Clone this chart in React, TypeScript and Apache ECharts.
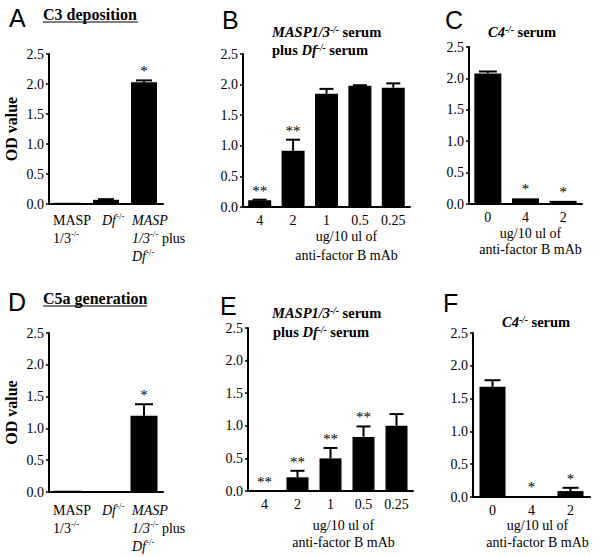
import React, { useEffect, useRef } from "react";
import * as echarts from "echarts";

// ---------- data ----------
const catsAD = ["MASP 1/3-/-", "Df-/-", "MASP 1/3-/- plus Df-/-"];
const catsBE = ["4", "2", "1", "0.5", "0.25"];
const catsCF = ["0", "4", "2"];

const valA = [0.02, 0.07, 2.03];
const errA = [0, 0.01, 0.03];
const sigA = ["", "", "*"];

const valB = [0.11, 0.92, 1.85, 1.98, 1.95];
const errB = [0.01, 0.18, 0.08, 0.01, 0.07];
const sigB = ["**", "**", "", "", ""];

const valC = [2.08, 0.09, 0.05];
const errC = [0.03, 0, 0];
const sigC = ["", "*", "*"];

const valD = [0.02, 0.01, 1.2];
const errD = [0, 0, 0.18];
const sigD = ["", "", "*"];

const valE = [0, 0.21, 0.5, 0.83, 1.0];
const errE = [0, 0.1, 0.16, 0.16, 0.18];
const sigE = ["**", "**", "**", "**", ""];

const valF = [1.68, 0.01, 0.09];
const errF = [0.1, 0, 0.05];
const sigF = ["", "*", "*"];

const yMin = 0;
const yMax = 2.5;
const yStep = 0.5;

// ---------- styles / layout ----------
const SERIF = "Liberation Serif";
const SANS = "Liberation Sans";

type Panel = {
  letter: string;
  cats: string[];
  val: number[];
  err: number[];
  sig: string[];
  grid: { left: number; top: number; width: number; height: number };
  barWidth: number;
  yName?: string;
};

const panels: Panel[] = [
  { letter: "A", cats: catsAD, val: valA, err: errA, sig: sigA, grid: { left: 49, top: 54, width: 114, height: 150 }, barWidth: 26, yName: "OD value" },
  { letter: "B", cats: catsBE, val: valB, err: errB, sig: sigB, grid: { left: 243, top: 54, width: 167, height: 153 }, barWidth: 23 },
  { letter: "C", cats: catsCF, val: valC, err: errC, sig: sigC, grid: { left: 469, top: 47, width: 113, height: 157 }, barWidth: 27 },
  { letter: "D", cats: catsAD, val: valD, err: errD, sig: sigD, grid: { left: 49, top: 333, width: 114, height: 159 }, barWidth: 27, yName: "OD value" },
  { letter: "E", cats: catsBE, val: valE, err: errE, sig: sigE, grid: { left: 248, top: 328, width: 165, height: 163 }, barWidth: 22 },
  { letter: "F", cats: catsCF, val: valF, err: errF, sig: sigF, grid: { left: 473, top: 333, width: 117, height: 164 }, barWidth: 26 },
];

const letterPos = [
  { x: 9, y: 18 },
  { x: 222, y: 20 },
  { x: 445, y: 20 },
  { x: 8, y: 302 },
  { x: 220, y: 306 },
  { x: 443, y: 303 },
];

const TS = 14.5;
const richTitle = {
  b: { fontFamily: SERIF, fontSize: TS, fontWeight: "bold", fill: "#000" },
  bi: { fontFamily: SERIF, fontSize: TS, fontWeight: "bold", fontStyle: "italic", fill: "#000" },
  sup: { fontFamily: SERIF, fontSize: 9.5, fontWeight: "bold", fontStyle: "italic", verticalAlign: "top", fill: "#000" },
};

const richLabel = {
  n: { fontFamily: SERIF, fontSize: 14, fill: "#000" },
  i: { fontFamily: SERIF, fontSize: 14, fontStyle: "italic", fill: "#000" },
  sup: { fontFamily: SERIF, fontSize: 9, verticalAlign: "top", fill: "#000" },
};

function txt(x: number, y: number, text: string, opts: any = {}) {
  return {
    type: "text",
    x,
    y,
    silent: true,
    style: {
      text,
      fill: "#000",
      fontFamily: SERIF,
      fontSize: 14,
      align: "left",
      verticalAlign: "middle",
      ...opts,
    },
  };
}

export default function App() {
  const ref = useRef<HTMLDivElement>(null);

  useEffect(() => {
    if (!ref.current) return;
    const chart = echarts.init(ref.current, undefined, { renderer: "svg" });

    const grid = panels.map((p) => ({ ...p.grid, containLabel: false }));
    const xAxis = panels.map((p, i) => ({
      type: "category",
      gridIndex: i,
      data: p.cats,
      axisLine: { lineStyle: { color: "#000", width: 2 } },
      axisTick: { alignWithLabel: true, length: 4, lineStyle: { color: "#000", width: 1.5 } },
      axisLabel: {
        show: p.cats !== catsAD,
        color: "#000",
        fontFamily: SERIF,
        fontSize: 14,
        margin: 6,
      },
      splitLine: { show: false },
    }));
    const yAxis = panels.map((p, i) => ({
      type: "value",
      gridIndex: i,
      min: yMin,
      max: yMax,
      interval: yStep,
      name: p.yName || "",
      nameLocation: "middle",
      nameRotate: 90,
      nameGap: 30,
      nameTextStyle: { fontFamily: SERIF, fontSize: 16, fontWeight: "bold", color: "#000" },
      axisLine: { show: true, lineStyle: { color: "#000", width: 2 } },
      axisTick: { show: true, length: 3, lineStyle: { color: "#000", width: 1.5 } },
      axisLabel: {
        color: "#000",
        fontFamily: SERIF,
        fontSize: 14,
        margin: 5,
        formatter: (v: number) => v.toFixed(1),
      },
      splitLine: { show: false },
    }));

    const series: any[] = [];
    panels.forEach((p, i) => {
      series.push({
        type: "bar",
        xAxisIndex: i,
        yAxisIndex: i,
        data: p.val,
        barWidth: p.barWidth,
        itemStyle: { color: "#000" },
        silent: true,
      });
      const capHalf = Math.round(p.barWidth * 0.32);
      series.push({
        type: "custom",
        xAxisIndex: i,
        yAxisIndex: i,
        clip: false,
        z: 5,
        silent: true,
        itemStyle: { color: "#000" },
        data: p.val.map((v, k) => [k, v, p.err[k]]),
        encode: { x: 0, y: 1 },
        renderItem: (_params: any, api: any) => {
          const k = api.value(0);
          const v = api.value(1);
          const e = api.value(2);
          const pb = api.coord([k, v]);
          const pt = api.coord([k, v + e]);
          const x = pb[0];
          const children: any[] = [];
          if (e > 0) {
            children.push({ type: "line", shape: { x1: x, y1: pb[1], x2: x, y2: pt[1] }, style: { stroke: "#000", lineWidth: 2 } });
            children.push({ type: "line", shape: { x1: x - capHalf, y1: pt[1], x2: x + capHalf, y2: pt[1] }, style: { stroke: "#000", lineWidth: 2 } });
          }
          return { type: "group", children };
        },
      });
    });

    chart.setOption({ animation: false, grid, xAxis, yAxis, series });

    // ----- texts -----
    const g: any[] = [];
    panels.forEach((p, i) => {
      g.push(txt(letterPos[i].x, letterPos[i].y, p.letter, { fontFamily: SANS, fontSize: 25 }));
      // significance marks above the error bars, placed through the axes
      p.sig.forEach((s, k) => {
        if (!s) return;
        const pt = chart.convertToPixel({ gridIndex: i }, [k, p.val[k] + p.err[k]]) as number[];
        g.push(txt(pt[0], pt[1] - 9, s, { align: "center", fontSize: 15 }));
      });
    });

    // panel titles
    g.push(txt(43, 14, "C3 deposition", { fontSize: 16, fontWeight: "bold" }));
    g.push({ type: "line", silent: true, shape: { x1: 43, y1: 22, x2: 138, y2: 22 }, style: { stroke: "#000", lineWidth: 1.2 } });
    g.push(txt(43, 298, "C5a generation", { fontSize: 16, fontWeight: "bold" }));
    g.push({ type: "line", silent: true, shape: { x1: 43, y1: 306, x2: 147, y2: 306 }, style: { stroke: "#000", lineWidth: 1.2 } });

    const t1 = "{bi|MASP1/3}{sup|-/-}{b| serum}";
    const t2 = "{b|plus }{bi|Df}{sup|-/-}{b| serum}";
    const t3 = "{bi|C4}{sup|-/-}{b| serum}";
    g.push(txt(272, 32, t1, { rich: richTitle }));
    g.push(txt(272, 50, t2, { rich: richTitle }));
    g.push(txt(488, 32, t3, { rich: richTitle }));
    g.push(txt(272, 313, t1, { rich: richTitle }));
    g.push(txt(273, 332, t2, { rich: richTitle }));
    g.push(txt(502, 322, t3, { rich: richTitle }));

    // x axis names
    const xName = [
      { i: 1, dx: 20, y1: 236, y2: 255 },
      { i: 2, dx: 5, y1: 233, y2: 249 },
      { i: 4, dx: 13, y1: 525, y2: 542 },
      { i: 5, dx: 6, y1: 525, y2: 542 },
    ];
    xName.forEach((n) => {
      const p = panels[n.i];
      const cx = p.grid.left + p.grid.width / 2 + n.dx;
      g.push(txt(cx, n.y1, "ug/10 ul of", { align: "center" }));
      g.push(txt(cx, n.y2, "anti-factor B mAb", { align: "center" }));
    });

    // category labels for A and D
    const adLabels = [
      "{n|MASP}\n{n|1/3}{sup|-/-}",
      "{i|Df}{sup|-/-}",
      "{i|MASP}\n{i|1/3}{sup|-/-}{n| plus}\n{i|Df}{sup|-/-}",
    ];
    const adDx = [-15, -4, -12];
    [0, 3].forEach((pi, j) => {
      const p = panels[pi];
      p.cats.forEach((_c, k) => {
        const pt = chart.convertToPixel({ gridIndex: pi }, [k, 0]) as number[];
        g.push({
          type: "text",
          x: pt[0] + adDx[k],
          y: pt[1] + (j === 0 ? 7 : 9),
          silent: true,
          style: { text: adLabels[k], rich: richLabel, align: "left", verticalAlign: "top", lineHeight: 18, fill: "#000", fontFamily: SERIF, fontSize: 14 },
        });
      });
    });

    chart.setOption({ graphic: { elements: g } });

    return () => chart.dispose();
  }, []);

  return (
    <div
      ref={ref}
      style={{ position: "absolute", left: 0, top: 0, width: 600, height: 557, background: "#fff" }}
    />
  );
}
